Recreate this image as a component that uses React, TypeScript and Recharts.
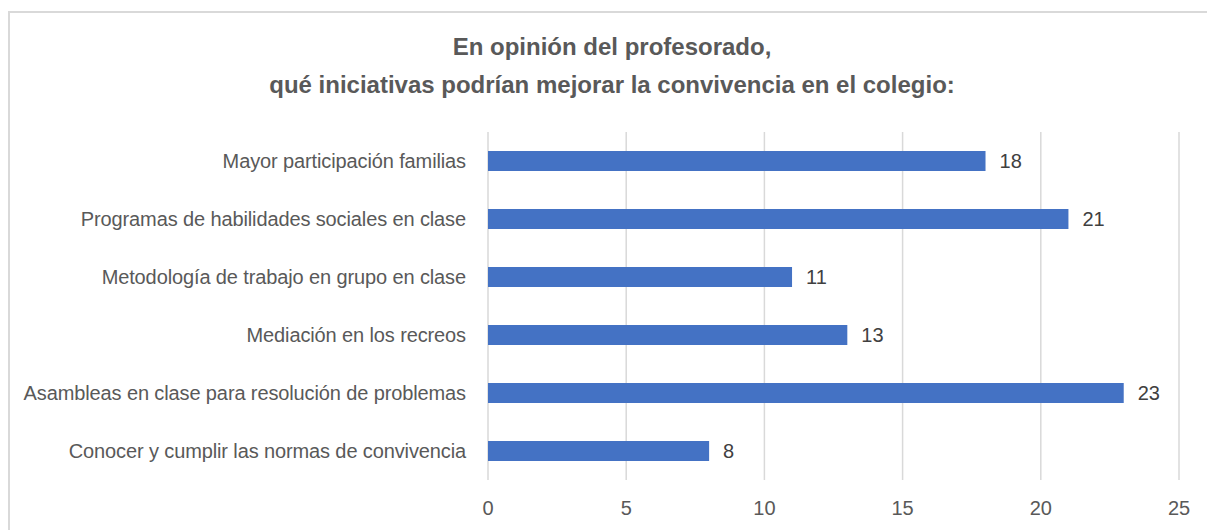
import { BarChart, Bar, XAxis, YAxis, CartesianGrid, LabelList } from "recharts";

const categories = [
  "Mayor participación familias",
  "Programas de habilidades sociales en clase",
  "Metodología de trabajo en grupo en clase",
  "Mediación en los recreos",
  "Asambleas en clase para resolución de problemas",
  "Conocer y cumplir las normas de convivencia",
];
const values = [18, 21, 11, 13, 23, 8];
const xTicks = [0, 5, 10, 15, 20, 25];

const FONT = '"Liberation Sans Narrow", "Arial Narrow", "Liberation Sans", sans-serif';

const data = categories.map((name, i) => ({ name, value: values[i] }));

export default function App() {
  return (
    <div
      style={{
        position: "absolute",
        left: 0,
        top: 0,
        width: 1207,
        height: 530,
        background: "#fff",
        overflow: "hidden",
        fontFamily: FONT,
      }}
    >
      {/* marco del gráfico */}
      <div
        style={{
          position: "absolute",
          left: 8,
          top: 11,
          width: 1220,
          height: 560,
          border: "2px solid #d9d9d9",
        }}
      />
      <div
        style={{
          position: "absolute",
          left: 0,
          width: 1224,
          top: 28,
          textAlign: "center",
          fontSize: 24,
          fontWeight: 700,
          lineHeight: "38px",
          color: "#595959",
        }}
      >
        En opinión del profesorado,
        <br />
        qué iniciativas podrían mejorar la convivencia en el colegio:
      </div>
      <div style={{ position: "absolute", left: 0, top: 0 }}>
        <BarChart
          width={1207}
          height={530}
          data={data}
          layout="vertical"
          margin={{ top: 132, right: 28, bottom: 0, left: 0 }}
        >
          <CartesianGrid horizontal={false} stroke="#d9d9d9" strokeWidth={1.5} />
          <XAxis
            type="number"
            domain={[0, 25]}
            ticks={xTicks}
            axisLine={false}
            tickLine={false}
            tickMargin={15}
            height={50}
            tick={{ fill: "#595959", fontSize: 20, fontFamily: FONT }}
          />
          <YAxis
            type="category"
            dataKey="name"
            width={488}
            axisLine={false}
            tickLine={false}
            tickMargin={16}
            interval={0}
            tick={{ fill: "#595959", fontSize: 20, fontFamily: FONT, letterSpacing: -0.12 }}
          />
          <Bar dataKey="value" fill="#4472c4" barSize={20} isAnimationActive={false}>
            <LabelList
              dataKey="value"
              position="right"
              offset={14}
              fill="#404040"
              fontSize={20}
              fontFamily={FONT}
            />
          </Bar>
        </BarChart>
      </div>
    </div>
  );
}
